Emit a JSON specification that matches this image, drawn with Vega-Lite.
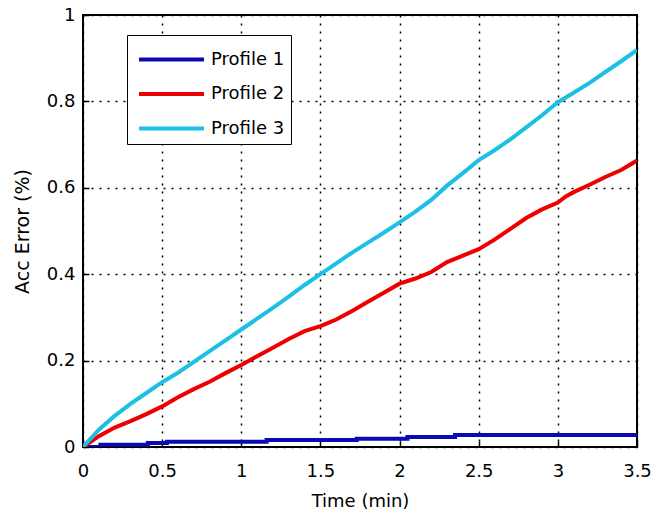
{
  "$schema": "https://vega.github.io/schema/vega-lite/v6.json",
  "width": 554,
  "height": 432,
  "autosize": "none",
  "padding": {"left": 83, "top": 15, "right": 14, "bottom": 64},
  "background": "white",
  "config": {
    "font": "DejaVu Sans",
    "view": {"stroke": "black", "strokeWidth": 2},
    "axis": {
      "domain": false,
      "gridColor": "black",
      "gridDash": [2, 6],
      "gridWidth": 1.5,
      "gridOpacity": 1,
      "tickColor": "black",
      "tickSize": -6,
      "tickWidth": 1.5,
      "labelColor": "black",
      "labelFontSize": 18,
      "labelFont": "DejaVu Sans",
      "titleColor": "black",
      "titleFontSize": 18,
      "titleFontWeight": "normal",
      "titleFont": "DejaVu Sans"
    }
  },
  "data": {
    "values": [
      {"t": 0, "v": 0.0, "s": "Profile 1"},
      {"t": 0.11, "v": 0.0, "s": "Profile 1"},
      {"t": 0.11, "v": 0.005, "s": "Profile 1"},
      {"t": 0.41, "v": 0.005, "s": "Profile 1"},
      {"t": 0.41, "v": 0.009, "s": "Profile 1"},
      {"t": 0.53, "v": 0.009, "s": "Profile 1"},
      {"t": 0.53, "v": 0.012, "s": "Profile 1"},
      {"t": 1.16, "v": 0.012, "s": "Profile 1"},
      {"t": 1.16, "v": 0.016, "s": "Profile 1"},
      {"t": 1.73, "v": 0.016, "s": "Profile 1"},
      {"t": 1.73, "v": 0.019, "s": "Profile 1"},
      {"t": 2.05, "v": 0.019, "s": "Profile 1"},
      {"t": 2.05, "v": 0.023, "s": "Profile 1"},
      {"t": 2.35, "v": 0.023, "s": "Profile 1"},
      {"t": 2.35, "v": 0.028, "s": "Profile 1"},
      {"t": 3.5, "v": 0.028, "s": "Profile 1"},

      {"t": 0, "v": 0.0, "s": "Profile 2"},
      {"t": 0.1, "v": 0.025, "s": "Profile 2"},
      {"t": 0.2, "v": 0.045, "s": "Profile 2"},
      {"t": 0.3, "v": 0.06, "s": "Profile 2"},
      {"t": 0.4, "v": 0.076, "s": "Profile 2"},
      {"t": 0.5, "v": 0.094, "s": "Profile 2"},
      {"t": 0.6, "v": 0.115, "s": "Profile 2"},
      {"t": 0.7, "v": 0.134, "s": "Profile 2"},
      {"t": 0.8, "v": 0.151, "s": "Profile 2"},
      {"t": 0.9, "v": 0.171, "s": "Profile 2"},
      {"t": 1.0, "v": 0.19, "s": "Profile 2"},
      {"t": 1.1, "v": 0.21, "s": "Profile 2"},
      {"t": 1.2, "v": 0.23, "s": "Profile 2"},
      {"t": 1.3, "v": 0.25, "s": "Profile 2"},
      {"t": 1.4, "v": 0.268, "s": "Profile 2"},
      {"t": 1.5, "v": 0.28, "s": "Profile 2"},
      {"t": 1.6, "v": 0.295, "s": "Profile 2"},
      {"t": 1.7, "v": 0.315, "s": "Profile 2"},
      {"t": 1.8, "v": 0.336, "s": "Profile 2"},
      {"t": 1.9, "v": 0.357, "s": "Profile 2"},
      {"t": 2.0, "v": 0.378, "s": "Profile 2"},
      {"t": 2.1, "v": 0.39, "s": "Profile 2"},
      {"t": 2.2, "v": 0.405, "s": "Profile 2"},
      {"t": 2.3, "v": 0.428, "s": "Profile 2"},
      {"t": 2.4, "v": 0.443, "s": "Profile 2"},
      {"t": 2.5, "v": 0.458, "s": "Profile 2"},
      {"t": 2.6, "v": 0.48, "s": "Profile 2"},
      {"t": 2.7, "v": 0.505, "s": "Profile 2"},
      {"t": 2.8, "v": 0.53, "s": "Profile 2"},
      {"t": 2.9, "v": 0.55, "s": "Profile 2"},
      {"t": 3.0, "v": 0.566, "s": "Profile 2"},
      {"t": 3.05, "v": 0.58, "s": "Profile 2"},
      {"t": 3.1, "v": 0.59, "s": "Profile 2"},
      {"t": 3.2, "v": 0.607, "s": "Profile 2"},
      {"t": 3.3, "v": 0.625, "s": "Profile 2"},
      {"t": 3.4, "v": 0.641, "s": "Profile 2"},
      {"t": 3.5, "v": 0.663, "s": "Profile 2"},

      {"t": 0, "v": 0.0, "s": "Profile 3"},
      {"t": 0.1, "v": 0.04, "s": "Profile 3"},
      {"t": 0.2, "v": 0.072, "s": "Profile 3"},
      {"t": 0.3, "v": 0.1, "s": "Profile 3"},
      {"t": 0.4, "v": 0.125, "s": "Profile 3"},
      {"t": 0.5, "v": 0.15, "s": "Profile 3"},
      {"t": 0.6, "v": 0.172, "s": "Profile 3"},
      {"t": 0.7, "v": 0.197, "s": "Profile 3"},
      {"t": 0.8, "v": 0.222, "s": "Profile 3"},
      {"t": 0.9, "v": 0.247, "s": "Profile 3"},
      {"t": 1.0, "v": 0.272, "s": "Profile 3"},
      {"t": 1.1, "v": 0.297, "s": "Profile 3"},
      {"t": 1.2, "v": 0.322, "s": "Profile 3"},
      {"t": 1.3, "v": 0.348, "s": "Profile 3"},
      {"t": 1.4, "v": 0.375, "s": "Profile 3"},
      {"t": 1.5, "v": 0.4, "s": "Profile 3"},
      {"t": 1.6, "v": 0.425, "s": "Profile 3"},
      {"t": 1.7, "v": 0.45, "s": "Profile 3"},
      {"t": 1.8, "v": 0.473, "s": "Profile 3"},
      {"t": 1.9, "v": 0.496, "s": "Profile 3"},
      {"t": 2.0, "v": 0.52, "s": "Profile 3"},
      {"t": 2.1, "v": 0.545, "s": "Profile 3"},
      {"t": 2.2, "v": 0.572, "s": "Profile 3"},
      {"t": 2.3, "v": 0.605, "s": "Profile 3"},
      {"t": 2.4, "v": 0.634, "s": "Profile 3"},
      {"t": 2.5, "v": 0.664, "s": "Profile 3"},
      {"t": 2.6, "v": 0.687, "s": "Profile 3"},
      {"t": 2.7, "v": 0.712, "s": "Profile 3"},
      {"t": 2.8, "v": 0.74, "s": "Profile 3"},
      {"t": 2.9, "v": 0.768, "s": "Profile 3"},
      {"t": 3.0, "v": 0.798, "s": "Profile 3"},
      {"t": 3.1, "v": 0.82, "s": "Profile 3"},
      {"t": 3.2, "v": 0.843, "s": "Profile 3"},
      {"t": 3.3, "v": 0.868, "s": "Profile 3"},
      {"t": 3.4, "v": 0.893, "s": "Profile 3"},
      {"t": 3.5, "v": 0.919, "s": "Profile 3"}
    ]
  },
  "mark": {"type": "line", "strokeWidth": 4, "clip": true},
  "encoding": {
    "x": {
      "field": "t", "type": "quantitative",
      "scale": {"domain": [0, 3.5], "nice": false, "zero": false},
      "axis": {"values": [0, 0.5, 1, 1.5, 2, 2.5, 3, 3.5], "title": "Time (min)", "labelPadding": 21, "titlePadding": 12, "labelFlush": false, "labelExpr": "datum.value"}
    },
    "y": {
      "field": "v", "type": "quantitative",
      "scale": {"domain": [0, 1], "nice": false},
      "axis": {"values": [0, 0.2, 0.4, 0.6, 0.8, 1], "title": "Acc Error (%)", "titleFontSize": 19, "labelPadding": 14, "titlePadding": 14, "labelFlush": false, "labelExpr": "datum.value"}
    },
    "color": {
      "field": "s", "type": "nominal",
      "scale": {"domain": ["Profile 1", "Profile 2", "Profile 3"], "range": ["#0a0ab4", "#ee0000", "#1cc0e4"]},
      "legend": {
        "title": null,
        "orient": "none",
        "legendX": 44,
        "legendY": 20,
        "symbolType": "M-2,0H2",
        "symbolSize": 1056,
        "symbolStrokeWidth": 4,
        "symbolOffset": 20,
        "rowPadding": 6.5,
        "labelFontSize": 18,
        "labelColor": "black",
        "labelFont": "DejaVu Sans",
        "labelOffset": 21,
        "strokeColor": "black",
        "fillColor": "white",
        "padding": 6
      }
    },
    "order": {"value": null}
  }
}
